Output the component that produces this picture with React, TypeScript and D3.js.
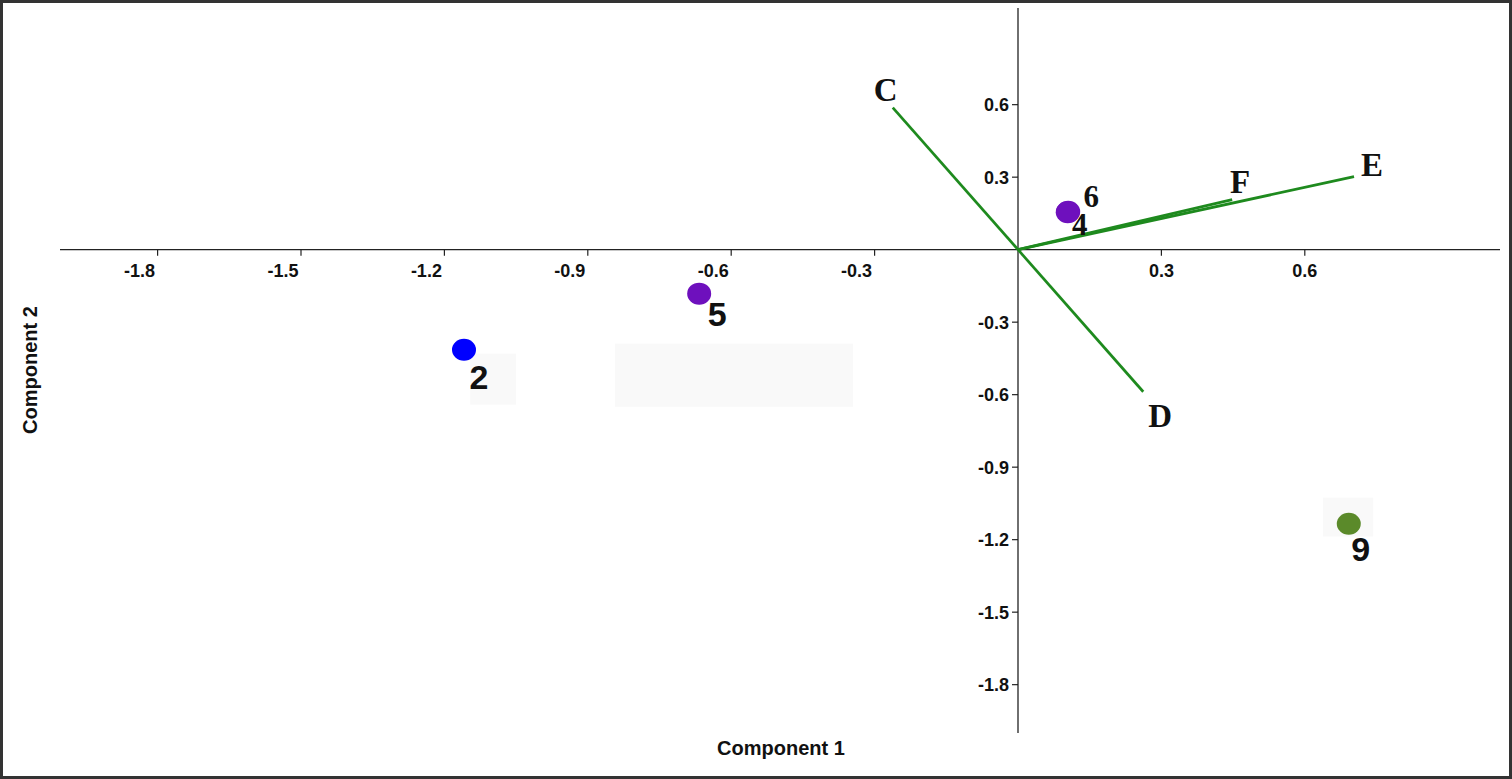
import { useEffect, useRef } from 'react';
import * as d3 from 'd3';

// Biplot scores (Component 1, Component 2)
const pointLabels = ['2', '5', '6', '4', '9'];
const pointX = [-1.159, -0.667, 0.105, 0.104, 0.692];
const pointY = [-0.414, -0.182, 0.157, 0.155, -1.134];
const pointColors = ['#0000ff', '#6e10bd', '#6e10bd', '#6e10bd', '#5b8a2a'];
const pointSerif = [false, false, true, true, false];

// Loadings drawn as vectors from the origin
const vectorLabels = ['C', 'D', 'E', 'F'];
const vectorX = [-0.262, 0.262, 0.703, 0.448];
const vectorY = [0.588, -0.588, 0.302, 0.207];

const xTicks = [-1.8, -1.5, -1.2, -0.9, -0.6, -0.3, 0.3, 0.6];
const yTicks = [0.6, 0.3, -0.3, -0.6, -0.9, -1.2, -1.5, -1.8];

// faint leftover patches in the figure (data units: x0, x1, y0, y1)
const patchX0 = [-1.146, -0.843, 0.638];
const patchX1 = [-1.05, -0.345, 0.743];
const patchY0 = [-0.43, -0.389, -1.026];
const patchY1 = [-0.641, -0.65, -1.187];

const W = 1512;
const H = 779;
const SANS = '"Liberation Sans", Arial, sans-serif';
const SERIF = '"Liberation Serif", "Times New Roman", serif';

// label offsets in px relative to the mark
const pointDx = [15, 18, 23, 12, 12];
const pointDy = [39, 32, -5, 23, 37];
const vectorDx = [-7, 17, 18, 8];
const vectorDy = [-7, 35, -1, -7];

export default function App() {
  const svgRef = useRef<SVGSVGElement>(null);

  useEffect(() => {
    document.body.style.margin = '0';
    if (!svgRef.current) return;
    const svg = d3.select(svgRef.current);
    svg.selectAll('*').remove();

    const x = d3.scaleLinear().domain([-2, 1]).range([62, 1496]);
    const y = d3.scaleLinear().domain([-2, 1]).range([733, 8]);

    svg.append('rect').attr('width', W).attr('height', H).attr('fill', '#ffffff');

    // patches
    patchX0.forEach((x0, i) => {
      svg
        .append('rect')
        .attr('x', x(x0))
        .attr('y', y(patchY0[i]))
        .attr('width', x(patchX1[i]) - x(x0))
        .attr('height', y(patchY1[i]) - y(patchY0[i]))
        .attr('fill', '#f9f9f9');
    });

    // Axes crossing at origin
    const g = svg.append('g');
    g.append('line')
      .attr('x1', 60)
      .attr('x2', 1500)
      .attr('y1', y(0))
      .attr('y2', y(0))
      .attr('stroke', '#222')
      .attr('stroke-width', 1.3);
    g.append('line')
      .attr('x1', x(0))
      .attr('x2', x(0))
      .attr('y1', y(1))
      .attr('y2', y(-2))
      .attr('stroke', '#222')
      .attr('stroke-width', 1.3);

    xTicks.forEach(t => {
      g.append('line')
        .attr('x1', x(t))
        .attr('x2', x(t))
        .attr('y1', y(0))
        .attr('y2', y(0) + 6)
        .attr('stroke', '#222')
        .attr('stroke-width', 1.2);
      g.append('text')
        .attr('x', x(t) + (t < 0 ? -18 : 0))
        .attr('y', y(0) + 27)
        .attr('text-anchor', 'middle')
        .attr('font-family', SANS)
        .attr('font-weight', 'bold')
        .attr('font-size', '18px')
        .attr('fill', '#111')
        .text(t.toFixed(1));
    });

    yTicks.forEach(t => {
      g.append('line')
        .attr('x1', x(0) - 6)
        .attr('x2', x(0))
        .attr('y1', y(t))
        .attr('y2', y(t))
        .attr('stroke', '#222')
        .attr('stroke-width', 1.2);
      g.append('text')
        .attr('x', x(0) - 9)
        .attr('y', y(t))
        .attr('dy', '0.36em')
        .attr('text-anchor', 'end')
        .attr('font-family', SANS)
        .attr('font-weight', 'bold')
        .attr('font-size', '18px')
        .attr('fill', '#111')
        .text(t.toFixed(1));
    });

    // Vectors
    vectorLabels.forEach((lab, i) => {
      svg
        .append('line')
        .attr('x1', x(0))
        .attr('y1', y(0))
        .attr('x2', x(vectorX[i]))
        .attr('y2', y(vectorY[i]))
        .attr('stroke', '#1e8a1e')
        .attr('stroke-width', 2.7);
      svg
        .append('text')
        .attr('x', x(vectorX[i]) + vectorDx[i])
        .attr('y', y(vectorY[i]) + vectorDy[i])
        .attr('text-anchor', 'middle')
        .attr('font-family', SERIF)
        .attr('font-weight', 'bold')
        .attr('font-size', '33px')
        .attr('fill', '#111')
        .text(lab);
    });

    // Points
    pointLabels.forEach((lab, i) => {
      svg
        .append('ellipse')
        .attr('cx', x(pointX[i]))
        .attr('cy', y(pointY[i]))
        .attr('rx', 12)
        .attr('ry', 11)
        .attr('fill', pointColors[i]);
      svg
        .append('text')
        .attr('x', x(pointX[i]) + pointDx[i])
        .attr('y', y(pointY[i]) + pointDy[i])
        .attr('text-anchor', 'middle')
        .attr('font-family', pointSerif[i] ? SERIF : SANS)
        .attr('font-weight', 'bold')
        .attr('font-size', pointSerif[i] ? '31px' : '34px')
        .attr('fill', '#111')
        .text(lab);
    });

    // Axis titles
    svg
      .append('text')
      .attr('x', 781)
      .attr('y', 755)
      .attr('text-anchor', 'middle')
      .attr('font-family', SANS)
      .attr('font-weight', 'bold')
      .attr('font-size', '20px')
      .attr('fill', '#111')
      .text('Component 1');
    svg
      .append('text')
      .attr('transform', `translate(37, 370) rotate(-90)`)
      .attr('text-anchor', 'middle')
      .attr('font-family', SANS)
      .attr('font-weight', 'bold')
      .attr('font-size', '20px')
      .attr('fill', '#111')
      .text('Component 2');

    // Frame
    svg
      .append('rect')
      .attr('x', 1.5)
      .attr('y', 1.5)
      .attr('width', W - 3)
      .attr('height', H - 3)
      .attr('fill', 'none')
      .attr('stroke', '#333')
      .attr('stroke-width', 3);
  }, []);

  return <svg ref={svgRef} width={W} height={H} style={{ display: 'block' }} />;
}
